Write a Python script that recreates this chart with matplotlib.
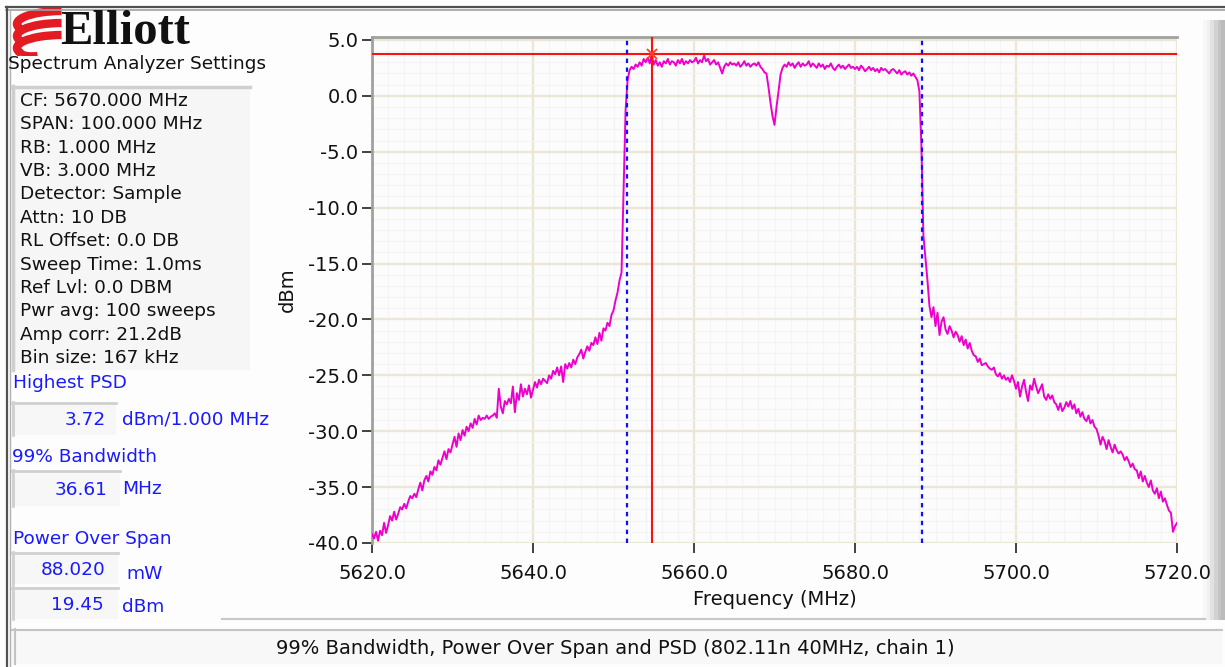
import numpy as np
import matplotlib
matplotlib.use("Agg")
import matplotlib.pyplot as plt
from matplotlib.patches import Rectangle, Arc
from matplotlib.lines import Line2D

# ---------------- data ----------------
freq_start = 5620.0
freq_step = 0.25
# trace levels (dBm), one per 0.25 MHz bin, 5620.0 .. 5720.0
level_dbm = [
    -39.2, -39.6, -39.0, -39.8, -38.9, -39.3, -38.2, -39.1, -38.4, -37.6, -38.0, -37.2, -37.9, -37.4, -36.8, -37.0, -36.5, -36.9, -36.3, -35.8,
    -36.0, -35.6, -35.9, -35.2, -34.6, -35.3, -34.4, -34.0, -34.5, -33.6, -33.9, -33.2, -33.5, -32.6, -33.0, -32.4, -31.8, -32.5, -31.6, -31.9,
    -31.2, -30.5, -31.4, -30.2, -30.8, -29.9, -30.4, -29.6, -30.0, -29.3, -29.7, -28.9, -29.4, -28.6, -29.0, -28.8, -28.9, -28.6, -28.9, -28.7,
    -28.6, -28.4, -28.8, -26.2, -27.8, -28.4, -27.3, -27.6, -27.1, -27.5, -26.0, -28.3, -26.6, -27.2, -25.8, -26.9, -26.2, -26.7, -25.9, -27.0,
    -26.3, -25.6, -26.1, -25.4, -25.8, -25.3, -25.5, -25.7, -25.0, -25.3, -24.6, -24.9, -24.3, -25.0, -24.2, -25.6, -24.0, -24.4, -23.9, -24.3,
    -23.6, -24.0, -23.4, -23.1, -22.7, -23.5, -22.9, -22.4, -22.8, -22.1, -22.3, -21.6, -22.2, -21.2, -21.9, -20.8, -21.0, -20.3, -20.6, -19.6,
    -19.2, -18.3, -17.6, -16.5, -15.8, -8.5, -1.3, 1.4, 2.3, 2.6, 2.4, 2.8, 2.6, 3.0, 2.7, 3.3, 3.0, 3.4, 2.9, 3.72,
    2.8, 3.2, 2.7, 3.0, 2.6, 3.1, 2.9, 3.3, 2.8, 3.1, 3.0, 2.7, 3.2, 2.9, 3.3, 2.8, 3.1, 2.9, 3.2, 3.0,
    3.1, 3.4, 2.9, 3.2, 3.0, 3.6, 3.1, 3.3, 2.8, 3.0, 3.2, 2.8, 3.0, 2.5, 2.0, 2.6, 2.9, 2.7, 3.0, 2.8,
    2.9, 2.7, 3.0, 2.6, 2.8, 3.1, 2.7, 2.9, 2.6, 2.8, 2.9, 2.7, 3.0, 2.6, 2.4, 2.1, 2.0, 0.8, -0.6, -1.8,
    -2.6, -1.0, 0.4, 1.9, 2.5, 2.8, 2.6, 3.0, 2.7, 2.9, 2.5, 2.8, 3.0, 2.6, 2.9, 2.7, 2.8, 3.1, 2.6, 2.9,
    2.7, 2.5, 2.9, 2.6, 2.8, 2.4, 2.7, 2.6, 2.9, 2.5, 2.3, 2.6, 2.8, 2.5, 2.7, 2.4, 2.6, 2.8, 2.5, 2.6,
    2.4, 2.6, 2.3, 2.7, 2.5, 2.2, 2.4, 2.6, 2.3, 2.5, 2.2, 2.4, 2.1, 2.5, 2.3, 2.4, 2.2, 2.0, 2.3, 2.4,
    2.2, 2.0, 2.3, 1.9, 2.1, 2.2, 1.9, 2.1, 1.8, 2.0, 1.7, 1.4, 0.4, -4.5, -12.5, -14.5, -16.5, -18.8, -19.8, -18.9,
    -20.6, -19.4, -21.4, -20.2, -19.8, -20.9, -21.3, -20.6, -21.0, -21.6, -21.1, -21.4, -22.0, -21.5, -22.3, -21.8, -22.6, -22.1, -22.8, -23.2,
    -23.3, -23.8, -23.5, -24.1, -24.0, -23.9, -24.2, -24.4, -24.5, -24.3, -24.9, -25.1, -24.8, -25.3, -25.0, -25.4, -25.2, -25.6, -25.0, -25.5,
    -26.2, -25.6, -26.9, -26.0, -25.4, -26.5, -27.3, -25.9, -26.3, -25.3, -26.0, -26.6, -26.2, -25.8, -26.9, -27.2, -26.7, -27.1, -26.8, -27.4,
    -27.6, -28.1, -27.5, -28.2, -27.9, -27.4, -27.8, -27.3, -28.0, -27.6, -28.4, -28.0, -28.7, -28.3, -28.9, -29.1, -28.6, -29.3, -29.0, -29.6,
    -29.8, -30.4, -31.2, -30.5, -30.9, -31.6, -30.8, -31.4, -31.9, -31.2, -31.7, -32.0, -31.8, -32.1, -32.6, -32.3, -32.7, -33.2, -32.9, -33.4,
    -33.5, -34.2, -33.6, -34.5, -34.0, -34.6, -35.0, -34.4, -35.3, -35.6, -35.1, -36.0, -35.4, -36.3, -36.0, -36.6, -37.1, -37.3, -39.0, -38.5,
    -38.2,
]
freq_mhz = freq_start + freq_step * np.arange(len(level_dbm))

highest_psd = 3.72
peak_freq = 5654.75
obw_low, obw_high = 5651.73, 5688.34

x_ticks = [5620.0, 5640.0, 5660.0, 5680.0, 5700.0, 5720.0]
y_ticks = [5.0, 0.0, -5.0, -10.0, -15.0, -20.0, -25.0, -30.0, -35.0, -40.0]

settings_lines = [
    "CF: 5670.000 MHz", "SPAN: 100.000 MHz", "RB: 1.000 MHz", "VB: 3.000 MHz",
    "Detector: Sample", "Attn: 10 DB", "RL Offset: 0.0 DB", "Sweep Time: 1.0ms",
    "Ref Lvl: 0.0 DBM", "Pwr avg: 100 sweeps", "Amp corr: 21.2dB", "Bin size: 167 kHz",
]
result_labels = ["Highest PSD", "99% Bandwidth", "Power Over Span"]
result_values = ["3.72", "36.61", "88.020", "19.45"]
result_units = ["dBm/1.000 MHz", "MHz", "mW", "dBm"]
status_text = "99% Bandwidth, Power Over Span and PSD (802.11n 40MHz, chain 1)"

# ---------------- figure ----------------
W, H = 1225, 667
fig = plt.figure(figsize=(W / 100, H / 100), dpi=100, facecolor="#fdfdfd")
plt.rcParams["font.family"] = ["DejaVu Sans"]
FS = 13.3

def fx(px):
    return px / W

def fy(py):
    return 1 - py / H

def rect(x0, y0, x1, y1, fc, ec="none", lw=0, z=0):
    fig.patches.append(Rectangle((fx(x0), fy(y1)), fx(x1) - fx(x0), fy(y0) - fy(y1),
                                 transform=fig.transFigure, facecolor=fc, edgecolor=ec,
                                 linewidth=lw, zorder=z))

def hline(x0, x1, y, c, lw):
    fig.lines.append(Line2D([fx(x0), fx(x1)], [fy(y), fy(y)], transform=fig.transFigure, color=c, lw=lw))

def vline(x, y0, y1, c, lw):
    fig.lines.append(Line2D([fx(x), fx(x)], [fy(y0), fy(y1)], transform=fig.transFigure, color=c, lw=lw))

# window frame
hline(6, 1225, 7, "#505050", 1.6)
hline(6, 1225, 10, "#a0a0a0", 1.2)
vline(7, 7, 667, "#505050", 1.6)
vline(10, 10, 667, "#b0b0b0", 1.0)

# settings box
rect(12, 86, 250, 370, "#f6f6f6")
hline(12, 250, 87, "#cfcfcf", 2.5)
vline(13, 86, 370, "#cfcfcf", 2.5)

# value boxes
for (y0, y1, x1) in [(402, 435, 116), (470, 506, 120), (552, 584, 118), (587, 619, 118)]:
    rect(12, y0, x1, y1, "#f7f7f7")
    hline(12, x1, y0 + 1, "#d0d0d0", 2.0)
    vline(13, y0, y1, "#d0d0d0", 2.0)

# status bar
rect(12, 629, 1222, 664, "#f8f8f8")
hline(12, 1222, 630, "#c4c4c4", 1.5)
vline(15, 629, 664, "#c4c4c4", 1.5)
hline(222, 1205, 619, "#c8c8c8", 1.5)
fig.text(fx(615), fy(648), status_text, ha="center", va="center", fontsize=14, color="#111111")

# right side gradient panel
gax = fig.add_axes([fx(1203), fy(620), fx(1225) - fx(1203), fy(20) - fy(620)])
gax.imshow([[0.06, 0.12, 0.2, 0.28, 0.34, 0.38]], cmap="Greys", vmin=0, vmax=1, aspect="auto")
gax.axis("off")

# logo
lax = fig.add_axes([fx(10), fy(56), fx(64) - fx(10), fy(8) - fy(56)])
lax.set_xlim(0, 54)
lax.set_ylim(0, 48)
lax.axis("off")
for yc in (8, 20, 32):
    lax.add_patch(Arc((52, yc), 90, 26, angle=0, theta1=92, theta2=188, color="#e41b23", lw=6))
lax.add_patch(Arc((22, 6), 26, 10, angle=0, theta1=190, theta2=320, color="#e41b23", lw=4))
fig.text(fx(60), fy(44), "Elliott", fontfamily="Liberation Serif", fontweight="bold",
         fontsize=35, color="#111111", ha="left", va="baseline")
fig.text(fx(8), fy(64), "Spectrum Analyzer Settings", fontsize=FS, ha="left", va="center", color="#111111")

for i, s in enumerate(settings_lines):
    fig.text(fx(20), fy(101 + i * 23.36), s, fontsize=FS, ha="left", va="center", color="#111111")

blue = "#1a1aff"
fig.text(fx(13), fy(383), result_labels[0], fontsize=FS, color=blue, va="center")
fig.text(fx(12), fy(457), result_labels[1], fontsize=FS, color=blue, va="center")
fig.text(fx(13), fy(539), result_labels[2], fontsize=FS, color=blue, va="center")
for val, unit, (xv, yv, xu, yu) in zip(result_values, result_units,
                                       [(106, 420, 122, 419), (108, 490, 122, 489),
                                        (106, 570, 126, 574), (104, 605, 122, 607)]):
    fig.text(fx(xv), fy(yv), val, fontsize=FS, color=blue, ha="right", va="center")
    fig.text(fx(xu), fy(yu), unit, fontsize=FS, color=blue, ha="left", va="center")

# ---------------- main plot ----------------
y_top = 5.3
ax = fig.add_axes([fx(372), fy(543), fx(1177) - fx(372), fy(36.6) - fy(543)])
ax.set_facecolor("#fcfcfc")
ax.set_xlim(5620, 5720)
ax.set_ylim(-40, y_top)

ax.set_xticks(x_ticks)
ax.set_yticks(y_ticks)
ax.set_xticklabels([f"{v:.1f}" for v in x_ticks])
ax.set_yticklabels([f"{v:.1f}" for v in y_ticks])
ax.set_xticks(np.arange(5620, 5721, 2), minor=True)
ax.set_yticks(np.arange(-40, 6, 1), minor=True)
ax.grid(which="minor", color="#f4f4f4", lw=0.8)
ax.grid(which="major", color="#ebe7d4", lw=1.7)
ax.set_axisbelow(True)
ax.tick_params(which="minor", length=0)
ax.tick_params(axis="x", which="major", direction="out", length=7, width=1.2, color="#222222",
               labelsize=14, labelcolor="#111111", pad=8)
ax.tick_params(axis="y", which="major", direction="out", length=7, width=1.2, color="#222222",
               labelsize=14, labelcolor="#111111", pad=3)
for s in ["right", "bottom"]:
    ax.spines[s].set_visible(False)
for s in ["left", "top"]:
    ax.spines[s].set_color("#a0a0a0")
    ax.spines[s].set_linewidth(2)

ax.plot(freq_mhz, level_dbm, color="#ee00cc", lw=1.4, zorder=3)
ax.axhline(highest_psd, color="#ff1010", lw=1.5, zorder=4)
ax.axvline(peak_freq, color="#ff1010", lw=1.5, zorder=4)
for f in (obw_low, obw_high):
    ax.axvline(f, color="#1010ff", lw=1.6, ls=(0, (2, 2)), zorder=4)
ax.plot([peak_freq], [highest_psd], marker="x", ms=7, mew=1.3, color="#ff4020", zorder=5)

ax.set_xlabel("Frequency (MHz)", fontsize=14, color="#111111", labelpad=5)
ax.set_ylabel("dBm", fontsize=14, color="#111111", labelpad=8)

fig.savefig("out.png", dpi=100, facecolor=fig.get_facecolor())
